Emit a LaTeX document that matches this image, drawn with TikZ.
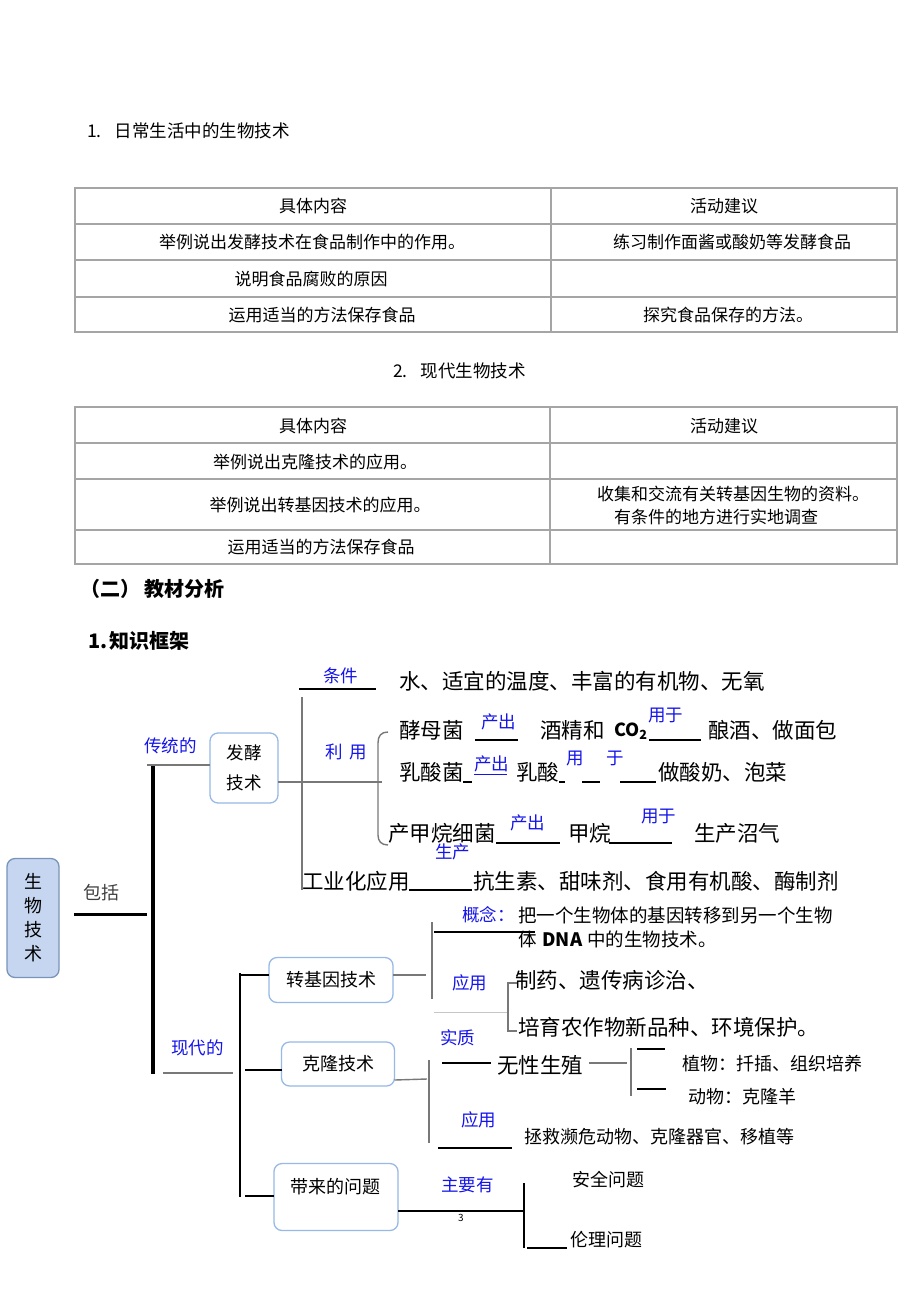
\documentclass[tikz,border=0pt]{standalone}
\usepackage{fontspec}
\setmainfont{Noto Sans CJK SC}
\usetikzlibrary{positioning}

\definecolor{tagblue}{RGB}{20,20,235}
\definecolor{boxedge}{RGB}{150,185,230}
\definecolor{bioblue}{RGB}{198,214,240}
\definecolor{twiggray}{RGB}{120,120,120}
\definecolor{gridgray}{RGB}{165,165,165}

\tikzset{
  every node/.style={inner sep=0pt, outer sep=0pt},
  txt/.style={anchor=west, font=\fontsize{18}{22}\selectfont},
  big/.style={anchor=west, font=\fontsize{21.5}{24}\selectfont},
  tag/.style={anchor=west, text=tagblue, font=\fontsize{17.5}{20}\selectfont},
  cell/.style={font=\fontsize{17}{20}\selectfont},
  head/.style={anchor=west, font=\bfseries\fontsize{20}{24}\selectfont},
  box/.style={draw=boxedge, fill=white, rounded corners=8pt, line width=1.3pt,
    font=\fontsize{18}{30}\selectfont, align=center},
  bar/.style={line width=3pt, black},
  twig/.style={line width=1.4pt, twiggray},
  rule/.style={line width=1.1pt, gridgray},
  ul/.style={line width=1.2pt, black},
}

\begin{document}
\begin{tikzpicture}[x=1pt,y=-1pt]
\useasboundingbox (0,0) rectangle (920,1302);

% table 1
\node[txt, font=\fontsize{17.5}{20}\selectfont] (h1) at (87,131) {1.\hspace{13pt}日常生活中的生物技术};
\draw[rule] (75,188) rectangle (897,332);
\foreach \y in {224,260,297}
  \draw[rule] (75,\y) -- (897,\y);
\draw[rule] (551,188) -- (551,332);
\node[cell] (a11) at (313,206) {具体内容};
\node[cell] (a12) at (724,206) {活动建议};
\node[cell] (a21) at (312,242) {举例说出发酵技术在食品制作中的作用。};
\node[cell] (a22) at (732,242) {练习制作面酱或酸奶等发酵食品};
\node[cell] (a31) at (311,279) {说明食品腐败的原因};
\node[cell] (a41) at (322,315) {运用适当的方法保存食品};
\node[cell] (a42) at (728,315) {探究食品保存的方法。};

% table 2
\node[txt, font=\fontsize{17.5}{20}\selectfont] (h2) at (393,371) {2.\hspace{13pt}现代生物技术};
\draw[rule] (75,407) rectangle (897,564);
\foreach \y in {443,479,530}
  \draw[rule] (75,\y) -- (897,\y);
\draw[rule] (550,407) -- (550,564);
\node[cell] (b11) at (313,426) {具体内容};
\node[cell] (b12) at (724,426) {活动建议};
\node[cell] (b21) at (315,462) {举例说出克隆技术的应用。};
\node[cell] (b31) at (320,505) {举例说出转基因技术的应用。};
\node[cell, anchor=west] (b32) at (597,494) {收集和交流有关转基因生物的资料。};
\node[cell, anchor=west] (b33) at (614,517) {有条件的地方进行实地调查};
\node[cell] (b41) at (321,547) {运用适当的方法保存食品};

\node[head] (h3) at (80,589) {（二）\hspace{4pt}教材分析};
\node[head] (h4) at (88,641) {1.\hspace{2pt}知识框架};

% root
\node[box, fill=bioblue, draw=boxedge!80!black, minimum width=52pt, minimum height=119pt,
  font=\fontsize{18}{24}\selectfont] (bio) at (33,918) {生\\物\\技\\术};
\node[txt, text=black!75] (incl) at (83,893) {包括};
\draw[bar] (74,914) -- (147,914);
\draw[bar, line width=3.5pt] (153,766) -- (153,1074);

% traditional
\node[tag] (trad) at (144,746) {传统的};
\node[box, minimum width=68pt, minimum height=70pt, font=\fontsize{17.5}{30}\selectfont] (ferm) at (244,768) {发酵\\技术};
\draw[twig] (147,765) -- (ferm.west |- 0,765);
\draw[twig] (ferm.east |- 0,782) -- (382,782);
\draw[twig] (302,697) -- (302,890);
\draw[line width=2pt] (299,689) -- (376,689);
\node[tag] (cond) at (323,676) {条件};
\node[big] (condtxt) at (399,681) {水、适宜的温度、丰富的有机物、无氧};
\node[tag] (use) at (325,752) {利\hspace{7pt}用};
\draw[twig] (388,732) .. controls (381,732) and (378,736) .. (378,743)
  -- (378,835) .. controls (378,841) and (381,845) .. (388,845);

% yeast
\node[big] (yeast) at (399,730) {酵母菌};
\node[tag] (y1) at (481,722) {产出};
\draw[ul] (475,740) -- (518,740);
\node[big] (alco) at (540,730) {酒精和};
\node[big, font=\bfseries\fontsize{18}{22}\selectfont] (co2) at (614,731) {CO\textsubscript{2}};
\node[tag] (y2) at (648,715) {用于};
\draw[ul] (649,740) -- (701,740);
\node[big] (bread) at (708,730) {酿酒、做面包};

% lactic
\node[big] (lab) at (399,772) {乳酸菌};
\draw[ul] (463,782) -- (472,782);
\node[tag] (l1) at (474,764) {产出};
\draw[line width=1pt, tagblue] (474,774) -- (507,774);
\node[big] (lac) at (516,772) {乳酸};
\draw[ul] (559,782) -- (565,782);
\node[tag] (l2) at (566,758) {用\hspace{23pt}于};
\draw[ul] (582,782) -- (600,782);
\draw[ul] (620,782) -- (656,782);
\node[big] (yog) at (658,772) {做酸奶、泡菜};

% methane
\node[big] (meth) at (388,833) {产甲烷细菌};
\draw[ul] (496,843) -- (560,843);
\node[tag] (m1) at (510,823) {产出};
\node[big] (gas) at (568,833) {甲烷};
\draw[ul] (609,843) -- (672,843);
\node[tag] (m2) at (641,816) {用于};
\node[big] (bio2) at (694,833) {生产沼气};
\node[tag] (prod) at (435,852) {生产};

% industry
\node[big] (ind) at (302,881) {工业化应用};
\draw[ul] (409,890) -- (472,890);
\node[big] (indtxt) at (473,881) {抗生素、甜味剂、食用有机酸、酶制剂};

% modern
\node[tag] (mod) at (171,1048) {现代的};
\draw[twig] (163,1073) -- (233,1073);
\draw[line width=2.5pt] (240,973) -- (240,1197);

% transgenic
\node[box, minimum width=124pt, minimum height=45pt] (trans) at (331,980) {转基因技术};
\draw[line width=1.3pt] (241,975) -- (trans.west |- 0,975);
\draw[twig] (trans.east |- 0,975) -- (426,975);
\draw[twig] (432,922) -- (432,999);
\draw[line width=2.5pt] (434,932) -- (535,932);
\node[tag] (con) at (462,915) {概念：};
\node[txt, font=\fontsize{18.5}{22}\selectfont] (contxt) at (518,915) {把一个生物体的基因转移到另一个生物};
\node[txt, font=\fontsize{18.5}{22}\selectfont] (contxt2) at (518,939) {体\hspace{6pt}\textbf{DNA}\hspace{5pt}中的生物技术。};
\node[tag] (app1) at (452,983) {应用};
\draw[line width=0.8pt, gray!45] (434,1012) -- (507,1012);
\draw[twig] (517,983) -- (508,983) -- (508,1031) -- (517,1031);
\node[big] (app1a) at (515,980) {制药、遗传病诊治、};
\node[big] (app1b) at (518,1027) {培育农作物新品种、环境保护。};

% cloning
\node[box, minimum width=113pt, minimum height=44pt] (clone) at (338,1064) {克隆技术};
\draw[line width=1.3pt] (245,1070) -- (clone.west |- 0,1070);
\draw[twig] (clone.east |- 0,1080) -- (427,1079);
\draw[twig] (429,1060) -- (429,1143);
\node[tag] (ess) at (440,1038) {实质};
\draw[line width=2.5pt] (442,1063) -- (491,1063);
\node[big] (asex) at (497,1065) {无性生殖};
\draw[twig] (589,1063) -- (627,1063);
\draw[twig] (631,1048) -- (631,1096);
\draw[line width=1.3pt] (637,1049) -- (665,1049);
\draw[line width=2.5pt] (637,1089) -- (666,1089);
\node[txt] (plant) at (682,1064) {植物：扦插、组织培养};
\node[txt] (anim) at (688,1097) {动物：克隆羊};
\node[tag] (app2) at (461,1120) {应用};
\draw[line width=2.5pt] (438,1148) -- (512,1148);
\node[txt] (app2txt) at (524,1137) {拯救濒危动物、克隆器官、移植等};

% problems
\node[box, minimum width=124pt, minimum height=67pt] (prob) at (336,1197) {};
\node[txt] (probtxt) at (290,1187) {带来的问题};
\draw[line width=2.5pt] (245,1196) -- (prob.west |- 0,1196);
\draw[line width=1.3pt] (prob.east |- 0,1211) -- (524,1211);
\node[font=\fontsize{10}{10}\selectfont] (pg) at (461,1218) {3};
\node[tag] (main) at (441,1185) {主要有};
\draw[line width=1.3pt] (524,1183) -- (524,1248);
\node[txt] (safe) at (572,1180) {安全问题};
\draw[line width=1.3pt] (527,1248) -- (567,1248);
\node[txt] (eth) at (570,1240) {伦理问题};
\end{tikzpicture}
\end{document}
